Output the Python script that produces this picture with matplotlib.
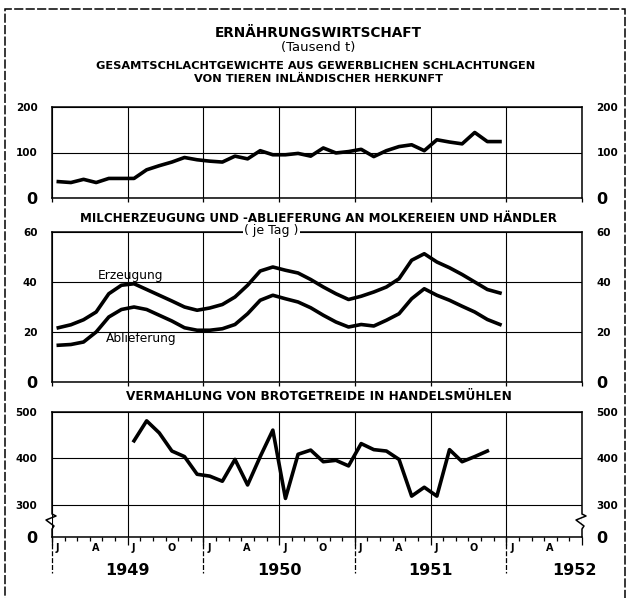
import numpy as np
import pandas as pd
import matplotlib
matplotlib.use("Agg")
import matplotlib.pyplot as plt
from matplotlib.lines import Line2D
from matplotlib.patches import Rectangle

# %% data (Tausend t) --------------------------------------------------------
months = pd.period_range("1949-01", "1951-12", freq="M")
schlacht = [36, 34, 41, 34, 43, 43, 43, 62, 71, 79, 89, 84,
            81, 79, 92, 86, 104, 95, 95, 98, 92, 110, 99, 102,
            107, 91, 104, 113, 117, 104, 128, 123, 119, 144, 124, 124]
erzeugung = [21.7, 22.9, 24.9, 28.0, 35.3, 38.7, 39.3, 37.0, 34.7, 32.4, 30.0, 28.7,
             29.6, 31.0, 34.0, 38.7, 44.4, 46.0, 44.7, 43.6, 41.0, 38.0, 35.3, 33.0,
             34.3, 36.0, 38.0, 41.3, 48.7, 51.3, 48.0, 45.7, 43.0, 40.0, 37.0, 35.6]
ablieferung = [14.7, 15.0, 16.0, 20.0, 26.0, 29.0, 30.0, 29.0, 26.7, 24.4, 21.7, 20.7,
               20.7, 21.3, 23.0, 27.3, 32.7, 34.7, 33.3, 32.0, 29.7, 26.7, 24.0, 22.0,
               23.0, 22.4, 24.7, 27.3, 33.3, 37.3, 34.7, 32.7, 30.3, 28.0, 25.0, 23.0]
muehlen_months = pd.period_range("1949-07", "1951-11", freq="M")
muehlen = [438, 481, 455, 416, 404, 366, 362, 351, 398, 343, 404, 461,
           314, 409, 418, 393, 396, 384, 432, 419, 416, 398, 319, 338,
           319, 419, 393, 404, 416]

quarter_letters = ["J", "A", "J", "O"]
years = ["1949", "1950", "1951", "1952"]

# %% layout helpers -----------------------------------------------------------
W, H = 628, 598
FONT = "Liberation Sans Narrow"
plt.rcParams["font.family"] = [FONT, "DejaVu Sans"]
plt.rcParams["font.weight"] = "bold"

fig = plt.figure(figsize=(W / 100, H / 100), dpi=100)


def px_axes(x0, y0, x1, y1):
    return fig.add_axes([x0 / W, 1 - y1 / H, (x1 - x0) / W, (y1 - y0) / H])


def ftext(x, y, s, **kw):
    fig.text(x / W, 1 - y / H, s, ha="center", va="center", **kw)


def mx(periods):
    # month index from Jan 1949, points sit mid-month
    return np.array([(p.year - 1949) * 12 + p.month - 1 + 0.5 for p in periods])


X0, X1 = 52, 582


def style(ax, ylim, yticks, ylabels):
    ax.set_xlim(0, 42)
    ax.set_ylim(*ylim)
    ax.set_xticks(np.arange(0, 43, 6))
    ax.set_xticklabels([])
    ax.set_yticks(yticks)
    ax.set_yticklabels(ylabels)
    ax.grid(True, color="black", lw=0.8)
    ax.set_axisbelow(True)
    ax.tick_params(axis="y", left=False, right=False, labelleft=True,
                   labelright=True, labelsize=7.5, pad=7)
    ax.tick_params(axis="x", direction="out", length=3, width=0.9)
    for s in ax.spines.values():
        s.set_linewidth(1.1)
    for t in ax.yaxis.get_major_ticks():
        if t.label1.get_text() == "0":
            t.label1.set_fontsize(11.5)
            t.label2.set_fontsize(11.5)


# %% top panel -----------------------------------------------------------------
ax1 = px_axes(X0, 107, X1, 198)
ax1.plot(mx(months), schlacht, color="black", lw=2.6, solid_joinstyle="round")
style(ax1, (0, 200), [0, 100, 200], ["0", "100", "200"])

# %% middle panel -------------------------------------------------------------
ax2 = px_axes(X0, 232, X1, 382)
ax2.plot(mx(months), erzeugung, color="black", lw=2.6, solid_joinstyle="round")
ax2.plot(mx(months), ablieferung, color="black", lw=2.6, solid_joinstyle="round")
style(ax2, (0, 60), [0, 20, 40, 60], ["0", "20", "40", "60"])
ax2.text(6.2, 42.6, "Erzeugung", ha="center", va="center", fontsize=8.8,
         fontweight="normal")
ax2.text(7.1, 17.5, "Ablieferung", ha="center", va="center", fontsize=8.8,
         fontweight="normal")
ax2.text(17.4, 60.6, "( je Tag )", ha="center", va="center", fontsize=9,
         fontweight="normal", zorder=5, clip_on=False,
         bbox=dict(facecolor="white", edgecolor="none", pad=1))

# %% bottom panel (broken axis between 0 and 300) -----------------------------
ax3 = px_axes(X0, 412, X1, 537)
ax3.plot(mx(muehlen_months), muehlen, color="black", lw=2.6, solid_joinstyle="round")
Y0 = 231
style(ax3, (Y0, 500), [Y0, 300, 400, 500], ["0", "300", "400", "500"])
ax3.spines["left"].set_visible(False)
ax3.spines["right"].set_visible(False)
# monthly ticks, longer at July
ax3.set_xticks(np.arange(0, 43, 1), minor=True)
ax3.tick_params(axis="x", which="minor", direction="out", length=3, width=0.9)
ax3.tick_params(axis="x", which="major", direction="out", length=6, width=0.9)

# spines drawn by hand with a zigzag break
dx = 1 / (X1 - X0)
dy = 1 / 125
for xs in (0, 1):
    zig_x = [xs, xs, xs + 4 * dx, xs - 6 * dx, xs + 2 * dx, xs, xs]
    zig_y = [1, 23 * dy, 21 * dy, 17 * dy, 11 * dy, 8 * dy, 0]
    ax3.add_line(Line2D(zig_x, zig_y, transform=ax3.transAxes, color="black",
                        lw=1.1, clip_on=False))

# year separators, month letters, year labels
bt = ax3.get_xaxis_transform()
for m in range(0, 43, 12):
    ax3.plot([m, m], [0, -0.29], transform=bt, color="black", lw=0.9,
             ls=(0, (4, 1.5)), clip_on=False)
for i, m in enumerate(range(0, 42, 3)):
    ax3.text(m + 0.45, -0.085, quarter_letters[i % 4], transform=bt,
             ha="center", va="center", fontsize=7)
for i, yr in enumerate(years):
    xpos = min(6 + 12 * i, 41.4)
    ax3.text(xpos, -0.265, yr, transform=bt, ha="center", va="center",
             fontsize=11.5)

# %% titles -------------------------------------------------------------------
ftext(318, 33, "ERNÄHRUNGSWIRTSCHAFT", fontsize=9.8)
ftext(318, 48, "(Tausend t)", fontsize=9.5, fontweight="normal")
ftext(316, 66, "GESAMTSCHLACHTGEWICHTE AUS GEWERBLICHEN SCHLACHTUNGEN", fontsize=8.2)
ftext(318, 79, "VON TIEREN INLÄNDISCHER HERKUNFT", fontsize=8.2)
ftext(318, 218, "MILCHERZEUGUNG UND -ABLIEFERUNG AN MOLKEREIEN UND HÄNDLER", fontsize=8.6)
ftext(319, 397, "VERMAHLUNG VON BROTGETREIDE IN HANDELSMÜHLEN", fontsize=8.7)

# outer frame
fig.patches.append(Rectangle((5 / W, -0.02), 620 / W, 1 - 9 / H + 0.02,
                             transform=fig.transFigure, fill=False,
                             edgecolor="black", lw=1.1, ls=(0, (6, 1.5))))

fig.savefig("out.png", dpi=100)
